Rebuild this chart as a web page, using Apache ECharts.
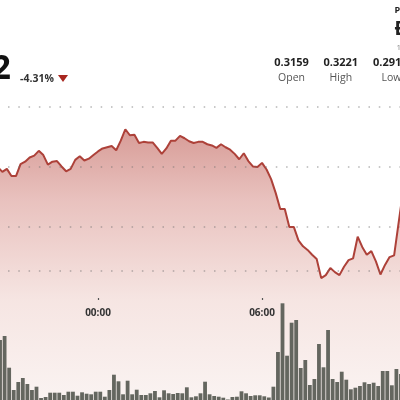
<!DOCTYPE html>
<html>
<head>
<meta charset="utf-8">
<style>html,body{margin:0;padding:0;background:#fff;}#c{width:400px;height:400px;}</style>
<script src="https://cdn.jsdelivr.net/npm/echarts@6/dist/echarts.min.js"></script>
</head>
<body>
<div id="c"></div>
<script>
// 10-minute sample times (previous evening through morning)
const times = [
 "20:20","20:30","20:40","20:50","21:00","21:10","21:20","21:30","21:40","21:50",
 "22:00","22:10","22:20","22:30","22:40","22:50","23:00","23:10","23:20","23:30","23:40","23:50",
 "00:00","00:10","00:20","00:30","00:40","00:50","01:00","01:10","01:20","01:30","01:40","01:50",
 "02:00","02:10","02:20","02:30","02:40","02:50","03:00","03:10","03:20","03:30","03:40","03:50",
 "04:00","04:10","04:20","04:30","04:40","04:50","05:00","05:10","05:20","05:30","05:40","05:50",
 "06:00","06:10","06:20","06:30","06:40","06:50","07:00","07:10","07:20","07:30","07:40","07:50",
 "08:00","08:10","08:20","08:30","08:40","08:50","09:00","09:10","09:20","09:30","09:40","09:50",
 "10:00","10:10","10:20","10:30","10:40","10:50","11:00","11:10"
];
const prices = [
 0.3200,0.3192,0.3197,0.3185,0.3185,0.3205,0.3209,0.3216,0.3219,0.3227,
 0.3220,0.3204,0.3209,0.3210,0.3201,0.3193,0.3197,0.3212,0.3218,0.3211,0.3214,0.3220,
 0.3226,0.3231,0.3233,0.3235,0.3228,0.3244,0.3263,0.3253,0.3254,0.3240,0.3242,0.3241,
 0.3241,0.3232,0.3222,0.3231,0.3244,0.3244,0.3252,0.3248,0.3243,0.3240,0.3242,0.3242,
 0.3238,0.3236,0.3232,0.3238,0.3233,0.3229,0.3222,0.3213,0.3223,0.3210,0.3201,0.3200,
 0.3207,0.3196,0.3180,0.3157,0.3130,0.3130,0.3100,0.3100,0.3078,0.3068,0.3062,0.3054,
 0.3047,0.3015,0.3020,0.3032,0.3025,0.3020,0.3034,0.3045,0.3048,0.3084,0.3067,0.3054,
 0.3060,0.3043,0.3021,0.3037,0.3050,0.3053,0.3108,0.3162
];
const volumes = [
 60,64,32.3,10,18,22,16,10,13.3,2,3,7.3,7.3,7.3,5,8.3,8.3,4.3,7.7,6.3,5.7,8.3,
 8.3,3.3,10,25.3,18.7,5.7,19.3,5.7,10.3,5,5,6.7,9,2.7,9.7,6.7,6,7,6.7,12.7,2.7,3.7,6.7,
 18.3,5.7,4,3.3,2.3,0.5,3,3.3,8.7,6.7,4,4.7,4.7,3.7,2.5,13.3,48,96.7,44.3,77.3,80,32,40,
 15,21,56,32.7,70,21,18,28.3,20.3,10.7,12.3,14,17.7,16,17.3,14,29,29,14.7,31,26
];
const tickLabels = ["00:00","06:00"];
const gridValues = [0.33,0.32,0.31,0.3027];
const header = {change:"-4.31%", open:"0.3159", high:"0.3221", low:"0.2915"};

// x values are minutes from midnight (evening times become negative)
function toMin(s){
  const h = parseInt(s.slice(0,2),10), m = parseInt(s.slice(3,5),10);
  let mins = h*60+m; if (h>=12) mins -= 1440;
  return mins;
}
const pad = n => (n<10?'0':'')+n;
function fmt(v){
  const m = Math.round(v);
  const h = ((Math.floor(m/60)%24)+24)%24, mm = ((m%60)+60)%60;
  return pad(h)+':'+pad(mm);
}
const xMin = -215.1, xMax = 662.9;
const lineData = times.map((t,i)=>[toMin(t), prices[i]]);
const barData = volumes.map((v,i)=>[toMin(times[i]) + 5, v]);
const tickVals = tickLabels.map(toMin);

const chart = echarts.init(document.getElementById('c'), null, {renderer:'canvas'});
const F = '"Open Sans", "Noto Sans", sans-serif';
function xa(g, extra){
  return Object.assign({type:'value', gridIndex:g, min:xMin, max:xMax, show:false,
    splitLine:{show:false}}, extra||{});
}
chart.setOption({
  animation:false,
  backgroundColor:'#ffffff',
  grid:[
    {left:0,right:0,top:47,bottom:0},
    {left:0,right:0,top:290,bottom:0},
    {left:0,right:0,top:0,bottom:102}
  ],
  xAxis:[
    xa(0), xa(1),
    xa(2,{show:true, z:10,
      axisLine:{show:false},
      axisTick:{show:true, customValues:tickVals, length:2, lineStyle:{color:'#555',width:1.2}},
      axisLabel:{show:true, customValues:tickVals, formatter:fmt, margin:10, fontSize:10,
        fontWeight:'bold', color:'#333', fontFamily:F}
    })
  ],
  yAxis:[
    {type:'value', gridIndex:0, min:0.2812, max:0.34, show:false, splitLine:{show:false}},
    {type:'value', gridIndex:1, min:0, max:110, show:false, splitLine:{show:false}},
    {type:'value', gridIndex:2, min:0, max:1, show:false, splitLine:{show:false}}
  ],
  series:[
    {type:'line', xAxisIndex:0, yAxisIndex:0, data:lineData, symbol:'none', z:2,
      lineStyle:{color:'#ad4139', width:2},
      areaStyle:{color:new echarts.graphic.LinearGradient(0,0,0,1,[
        {offset:0,color:'#c6716a'},
        {offset:0.26,color:'#dfa7a2'},
        {offset:0.63,color:'#f2dad6'},
        {offset:1,color:'#f8eeec'}
      ])},
      markLine:{silent:true, precision:4, symbol:['none','none'], label:{show:false},
        lineStyle:{type:[1.5,8.8], dashOffset:2.3, color:'rgba(110,110,110,0.5)', width:1.5},
        data:gridValues.map(v=>({yAxis:v}))}
    },
    {type:'bar', xAxisIndex:1, yAxisIndex:1, data:barData, barWidth:3.8, z:3,
      itemStyle:{color:'#64665f'}}
  ],
  graphic:[
    {type:'text', x:11, y:69, style:{text:'2', align:'right', verticalAlign:'middle',
      font:'bold 34px '+F, fill:'#111'}},
    {type:'text', x:20, y:79, style:{text:header.change, verticalAlign:'middle',
      font:'bold 10.5px '+F, fill:'#333'}},
    {type:'polygon', shape:{points:[[58,75],[68,75],[63,82]]}, style:{fill:'#a8261f'}},
    {type:'text', x:291.5, y:63, style:{text:header.open, align:'center', verticalAlign:'middle',
      font:'bold 11px '+F, fill:'#222'}},
    {type:'text', x:291.5, y:78, style:{text:'Open', align:'center', verticalAlign:'middle',
      font:'10.5px '+F, fill:'#555'}},
    {type:'text', x:340.8, y:63, style:{text:header.high, align:'center', verticalAlign:'middle',
      font:'bold 11px '+F, fill:'#222'}},
    {type:'text', x:340.8, y:78, style:{text:'High', align:'center', verticalAlign:'middle',
      font:'10.5px '+F, fill:'#555'}},
    {type:'text', x:390.3, y:63, style:{text:header.low, align:'center', verticalAlign:'middle',
      font:'bold 11px '+F, fill:'#222'}},
    {type:'text', x:391.5, y:78, style:{text:'Low', align:'center', verticalAlign:'middle',
      font:'10.5px '+F, fill:'#555'}},
    {type:'text', x:394.5, y:10, style:{text:'P', verticalAlign:'middle',
      font:'bold 9px '+F, fill:'#222'}},
    {type:'text', x:394.5, y:30, style:{text:'Ð', verticalAlign:'middle',
      font:'bold 19px '+F, fill:'#222'}},
    {type:'text', x:396.5, y:48, style:{text:'1', verticalAlign:'middle',
      font:'8px '+F, fill:'#888'}}
  ]
});
</script>
</body>
</html>
